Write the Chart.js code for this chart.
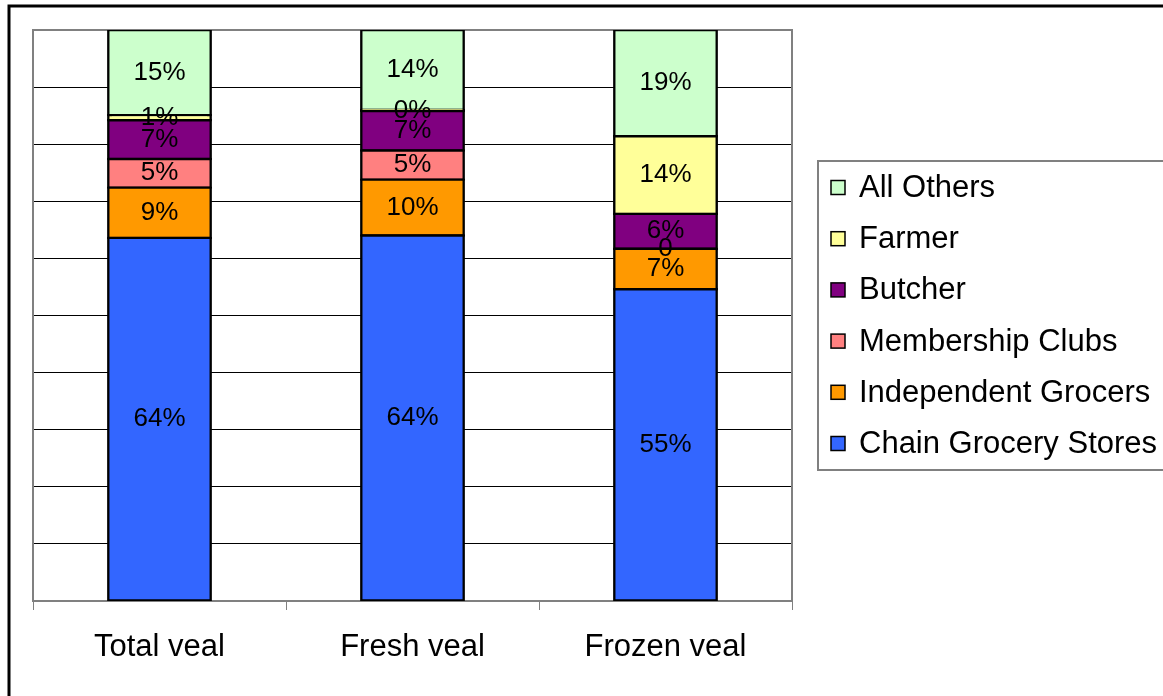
<!DOCTYPE html>
<html>
<head>
<meta charset="utf-8">
<script src="https://cdn.jsdelivr.net/npm/chart.js@4/dist/chart.umd.min.js"></script>
<style>
  html, body { margin: 0; padding: 0; background: #fff; }
  #wrap { position: relative; width: 1163px; height: 696px; }
</style>
</head>
<body>
<div id="wrap"><canvas id="c" width="1163" height="696"></canvas></div>
<script>
// Veal purchase share by outlet, percent of volume
const categories = ['Total veal', 'Fresh veal', 'Frozen veal'];
const chainGroceryStores = [63.6, 64.0, 54.6];
const independentGrocers = [8.8, 9.8, 7.1];
const membershipClubs = [5.0, 5.1, 0];
const butcher = [6.8, 6.9, 6.1];
const farmer = [0.9, 0.2, 13.6];
const allOthers = [14.9, 14.0, 18.6];

const seriesNames = ['Chain Grocery Stores', 'Independent Grocers', 'Membership Clubs', 'Butcher', 'Farmer', 'All Others'];
const seriesValues = [chainGroceryStores, independentGrocers, membershipClubs, butcher, farmer, allOthers];
const seriesColors = ['#3366FF', '#FF9900', '#FF8080', '#800080', '#FFFF99', '#CCFFCC'];

const FONT = '"Liberation Sans", Arial, Helvetica, sans-serif';
Chart.defaults.font.family = FONT;

// White page with a heavy frame running off the right and bottom edges
const framePlugin = {
  id: 'frame',
  beforeDraw(chart) {
    const ctx = chart.ctx;
    ctx.save();
    ctx.fillStyle = '#fff';
    ctx.fillRect(0, 0, chart.width, chart.height);
    ctx.strokeStyle = '#000';
    ctx.lineWidth = 3;
    ctx.strokeRect(9, 6, 1400, 1000);
    ctx.restore();
  }
};

// Grey border around the plot area
const plotBorderPlugin = {
  id: 'plotBorder',
  beforeDatasetsDraw(chart) {
    const a = chart.chartArea, ctx = chart.ctx;
    ctx.save();
    ctx.strokeStyle = '#808080';
    ctx.lineWidth = 2;
    ctx.strokeRect(a.left, a.top, a.right - a.left, a.bottom - a.top);
    ctx.restore();
  }
};

// Percent labels centred in each stacked segment
const segmentLabelPlugin = {
  id: 'segmentLabels',
  afterDatasetsDraw(chart) {
    const ctx = chart.ctx;
    ctx.save();
    ctx.fillStyle = '#000';
    ctx.font = '26px ' + FONT;
    ctx.textAlign = 'center';
    ctx.textBaseline = 'middle';
    chart.data.datasets.forEach((ds, i) => {
      const meta = chart.getDatasetMeta(i);
      meta.data.forEach((bar, j) => {
        const v = ds.data[j];
        const txt = v === 0 ? '0' : Math.round(v) + '%';
        const cy = (bar.y + bar.base) / 2;
        ctx.fillText(txt, bar.x, cy);
      });
    });
    ctx.restore();
  }
};

// Boxed legend on the right, top entry = top of stack
const boxedLegendPlugin = {
  id: 'boxedLegend',
  afterDraw(chart) {
    const ctx = chart.ctx;
    const left = 818, top = 161, bottom = 470;
    ctx.save();
    ctx.fillStyle = '#fff';
    ctx.fillRect(left, top, 500, bottom - top);
    ctx.strokeStyle = '#808080';
    ctx.lineWidth = 2;
    ctx.strokeRect(left, top, 500, bottom - top);
    const ds = chart.data.datasets.slice().reverse();
    const y0 = 187.5, step = 51.2;
    ctx.font = '31px ' + FONT;
    ctx.textBaseline = 'middle';
    ctx.textAlign = 'left';
    ds.forEach((d, k) => {
      const cy = y0 + k * step;
      ctx.fillStyle = d.backgroundColor;
      ctx.fillRect(831, cy - 7, 14, 14);
      ctx.strokeStyle = '#000';
      ctx.lineWidth = 1.5;
      ctx.strokeRect(831, cy - 7, 14, 14);
      ctx.fillStyle = '#000';
      ctx.fillText(d.label, 859, cy + 1);
    });
    ctx.restore();
  }
};

const datasets = seriesNames.map((name, i) => ({
  label: name,
  data: seriesValues[i],
  backgroundColor: seriesColors[i],
  borderColor: '#000',
  borderWidth: 2.4,
  inflateAmount: 1.2,
  borderSkipped: false,
  categoryPercentage: 1.0,
  barPercentage: 0.405
}));

new Chart(document.getElementById('c'), {
  type: 'bar',
  data: { labels: categories, datasets: datasets },
  plugins: [framePlugin, plotBorderPlugin, segmentLabelPlugin, boxedLegendPlugin],
  options: {
    responsive: false,
    animation: false,
    devicePixelRatio: 1,
    layout: { padding: { left: 33, top: 30, right: 371, bottom: 0 } },
    plugins: { legend: { display: false }, tooltip: { enabled: false } },
    scales: {
      x: {
        stacked: true,
        offset: true,
        grid: {
          display: true,
          drawOnChartArea: false,
          drawTicks: true,
          tickLength: 9,
          color: '#808080',
          lineWidth: 1,
          offset: true
        },
        border: { display: true, color: '#808080', width: 2 },
        ticks: { color: '#000', font: { size: 31, family: FONT }, padding: 19 },
        afterFit(scale) { scale.height = 95; }
      },
      y: {
        stacked: true,
        min: 0,
        max: 100,
        ticks: { display: false, stepSize: 10 },
        grid: {
          drawTicks: false,
          lineWidth: 1,
          color: (c) => (c.tick && (c.tick.value === 0 || c.tick.value === 100)) ? 'rgba(0,0,0,0)' : '#000'
        },
        border: { display: true, color: '#808080', width: 2 },
        afterFit(scale) { scale.width = 0; }
      }
    }
  }
});
</script>
</body>
</html>
